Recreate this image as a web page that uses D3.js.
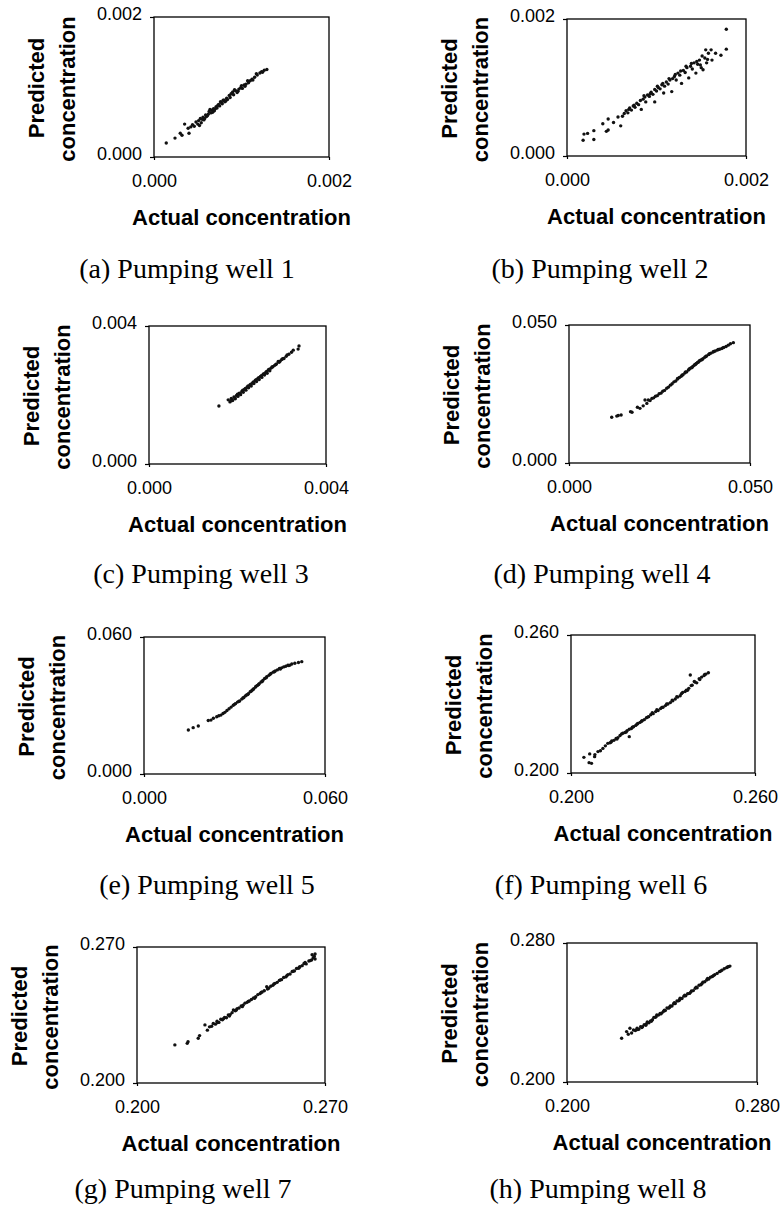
<!DOCTYPE html>
<html>
<head>
<meta charset="utf-8">
<script src="https://cdn.jsdelivr.net/npm/d3@7"></script>
<style>
body { margin: 0; background: #fff; }
.tick text { font-family: "Liberation Sans", Arial, sans-serif; font-size: 18px; fill: #000; }
.title { font-family: "Liberation Sans", Arial, sans-serif; font-size: 22px; font-weight: bold; fill: #000; }
.caption { font-family: "Liberation Serif", "Times New Roman", serif; font-size: 28px; fill: #000; }
</style>
</head>
<body>
<svg id="chart" width="781" height="1211"></svg>
<script>
// captions and axis ranges (min / max tick of each panel)
var captions = ["(a) Pumping well 1", "(b) Pumping well 2", "(c) Pumping well 3", "(d) Pumping well 4",
                "(e) Pumping well 5", "(f) Pumping well 6", "(g) Pumping well 7", "(h) Pumping well 8"];
var tickValues = [[0, 0.002], [0, 0.002], [0, 0.004], [0, 0.05],
                  [0, 0.06], [0.2, 0.26], [0.2, 0.27], [0.2, 0.28]];
var xTitle = "Actual concentration";
var yTitle = ["Predicted", "concentration"];

// points: actual (x) and predicted (y)
var well1Actual = [0.00014,0.00024,0.00030,0.00032,0.00035,0.00039,0.00040,0.00042,0.00044,0.00046,0.00048,0.00050,0.00051,0.00053,0.00054,0.00056,0.00057,0.00059,0.00060,0.00062,0.00063,0.00065,0.00066,0.00068,0.00069,0.00071,0.00072,0.00074,0.00075,0.00077,0.00078,0.00080,0.00081,0.00083,0.00084,0.00086,0.00087,0.00089,0.00090,0.00091,0.00093,0.00095,0.00097,0.00099,0.00101,0.00103,0.00105,0.00108,0.00110,0.00112,0.00115,0.00118,0.00121,0.00124,0.00126,0.00129,
    0.00052,0.00058,0.00064,0.00070,0.00076,0.00082,0.00088,0.00092,0.00096,0.00100,0.00104,0.00107,0.00113,0.00117,0.00123,0.00055,0.00061,0.00067,0.00073,0.00079];
var well1Predicted = [0.00020,0.00027,0.00034,0.00031,0.00047,0.00041,0.00034,0.00043,0.00046,0.00044,0.00050,0.00047,0.00052,0.00055,0.00049,0.00057,0.00053,0.00060,0.00058,0.00061,0.00065,0.00063,0.00067,0.00069,0.00066,0.00072,0.00070,0.00075,0.00073,0.00078,0.00076,0.00081,0.00079,0.00084,0.00082,0.00088,0.00085,0.00091,0.00093,0.00089,0.00095,0.00092,0.00097,0.00099,0.00098,0.00103,0.00104,0.00106,0.00109,0.00111,0.00114,0.00117,0.00120,0.00121,0.00124,0.00125,
    0.00045,0.00055,0.00068,0.00069,0.00079,0.00080,0.00090,0.00096,0.00094,0.00102,0.00101,0.00109,0.00110,0.00119,0.00122,0.00054,0.00059,0.00064,0.00074,0.00081];

var well2Actual = [0.00018,0.00019,0.00023,0.00030,0.00030,0.00040,0.00044,0.00046,0.00046,0.00052,0.00057,0.00060,0.00062,0.00064,0.00066,0.00068,0.00070,0.00072,0.00074,0.00076,0.00078,0.00080,0.00082,0.00083,0.00085,0.00087,0.00088,0.00090,0.00092,0.00094,0.00096,0.00098,0.00098,0.00100,0.00102,0.00104,0.00106,0.00108,0.00109,0.00111,0.00113,0.00115,0.00117,0.00118,0.00120,0.00122,0.00124,0.00126,0.00128,0.00130,0.00132,0.00134,0.00136,0.00138,0.00140,0.00142,0.00144,0.00146,0.00148,0.00150,0.00152,0.00154,0.00156,0.00158,0.00161,0.00162,0.00166,0.00172,0.00178,0.00178,
    0.00086,0.00093,0.00101,0.00107,0.00114,0.00121,0.00127,0.00133,0.00139,0.00145,0.00151,0.00157,0.00149,0.00155,0.00069,0.00075];
var well2Predicted = [0.00023,0.00032,0.00033,0.00024,0.00037,0.00047,0.00036,0.00038,0.00054,0.00049,0.00057,0.00044,0.00058,0.00062,0.00066,0.00063,0.00070,0.00067,0.00073,0.00071,0.00077,0.00075,0.00081,0.00068,0.00083,0.00086,0.00079,0.00089,0.00087,0.00093,0.00090,0.00079,0.00097,0.00095,0.00100,0.00098,0.00104,0.00092,0.00102,0.00108,0.00105,0.00111,0.00094,0.00113,0.00116,0.00111,0.00121,0.00118,0.00106,0.00125,0.00122,0.00129,0.00114,0.00131,0.00127,0.00136,0.00121,0.00134,0.00140,0.00129,0.00126,0.00143,0.00136,0.00150,0.00155,0.00140,0.00150,0.00147,0.00156,0.00185,
    0.00088,0.00091,0.00102,0.00106,0.00113,0.00119,0.00124,0.00131,0.00135,0.00138,0.00146,0.00141,0.00133,0.00155,0.00068,0.00074];

var well3Actual = [0.00158,0.00179,0.00183,0.00186,0.00189,0.00192,0.00195,0.00198,0.00201,0.00204,0.00207,0.00210,0.00213,0.00216,0.00219,0.00222,0.00225,0.00228,0.00231,0.00234,0.00237,0.00240,0.00243,0.00246,0.00249,0.00252,0.00255,0.00258,0.00261,0.00264,0.00267,0.00270,0.00273,0.00276,0.00280,0.00284,0.00288,0.00292,0.00296,0.00300,0.00305,0.00310,0.00316,0.00322,0.00326,0.00337,0.00339,
    0.00185,0.00194,0.00200,0.00206,0.00212,0.00218,0.00224,0.00230,0.00236,0.00242,0.00248,0.00254,0.00260,0.00266,0.00272,0.00278,0.00286,0.00294,0.00302,0.00312];
var well3Predicted = [0.00168,0.00186,0.00180,0.00190,0.00184,0.00194,0.00189,0.00199,0.00196,0.00205,0.00201,0.00211,0.00208,0.00217,0.00214,0.00223,0.00221,0.00229,0.00226,0.00235,0.00233,0.00242,0.00239,0.00248,0.00245,0.00254,0.00251,0.00260,0.00258,0.00266,0.00263,0.00273,0.00270,0.00278,0.00282,0.00286,0.00290,0.00297,0.00298,0.00303,0.00306,0.00312,0.00318,0.00324,0.00330,0.00333,0.00342,
    0.00183,0.00192,0.00202,0.00204,0.00214,0.00219,0.00226,0.00231,0.00238,0.00244,0.00250,0.00256,0.00262,0.00268,0.00275,0.00281,0.00288,0.00295,0.00305,0.00316];

var well4Actual = [0.0118,0.0132,0.0136,0.0144,0.0170,0.0174,0.0189,0.0196,0.0205,0.0210,0.0215,0.0219,0.0224,0.0229,0.0234,0.0239,0.0244,0.0249,0.0254,0.0259,0.0264,0.0270,0.0275,0.0280,0.0285,0.0290,0.0295,0.0300,0.0305,0.0310,0.0315,0.0320,0.0325,0.0330,0.0334,0.0338,0.0342,0.0346,0.0350,0.0355,0.0360,0.0365,0.0370,0.0375,0.0380,0.0386,0.0392,0.0398,0.0404,0.0410,0.0416,0.0422,0.0428,0.0434,0.0440,0.0446,0.0454,
    0.0300,0.0312,0.0322,0.0332,0.0340,0.0348,0.0352,0.0358,0.0362,0.0368,0.0378,0.0388,0.0400,0.0412,0.0426];
var well4Predicted = [0.0166,0.0170,0.0172,0.0174,0.0186,0.0184,0.0202,0.0198,0.0207,0.0228,0.0216,0.0228,0.0226,0.0234,0.0236,0.0242,0.0244,0.0251,0.0253,0.0260,0.0263,0.0271,0.0275,0.0282,0.0287,0.0294,0.0297,0.0304,0.0310,0.0314,0.0320,0.0326,0.0330,0.0337,0.0343,0.0345,0.0350,0.0354,0.0358,0.0364,0.0370,0.0373,0.0378,0.0383,0.0388,0.0393,0.0398,0.0402,0.0406,0.0409,0.0412,0.0415,0.0419,0.0422,0.0427,0.0432,0.0436,
    0.0306,0.0318,0.0330,0.0340,0.0346,0.0357,0.0361,0.0366,0.0372,0.0375,0.0386,0.0396,0.0404,0.0411,0.0418];

var well5Actual = [0.0147,0.0163,0.0180,0.0213,0.0222,0.0230,0.0241,0.0248,0.0255,0.0262,0.0268,0.0275,0.0282,0.0289,0.0296,0.0303,0.0310,0.0317,0.0324,0.0331,0.0340,0.0346,0.0352,0.0358,0.0364,0.0370,0.0376,0.0382,0.0388,0.0394,0.0400,0.0407,0.0414,0.0421,0.0428,0.0435,0.0442,0.0449,0.0456,0.0463,0.0470,0.0477,0.0484,0.0490,0.0500,0.0512,0.0523,
    0.0300,0.0314,0.0328,0.0336,0.0344,0.0355,0.0362,0.0372,0.0380,0.0392,0.0405,0.0418,0.0432,0.0452,0.0480];
var well5Predicted = [0.0193,0.0203,0.0210,0.0234,0.0236,0.0244,0.0251,0.0255,0.0258,0.0265,0.0270,0.0278,0.0286,0.0293,0.0301,0.0308,0.0315,0.0320,0.0328,0.0335,0.0346,0.0352,0.0360,0.0367,0.0374,0.0381,0.0388,0.0396,0.0403,0.0410,0.0418,0.0426,0.0432,0.0440,0.0446,0.0451,0.0456,0.0462,0.0465,0.0469,0.0472,0.0476,0.0477,0.0482,0.0485,0.0488,0.0492,
    0.0305,0.0318,0.0333,0.0342,0.0348,0.0362,0.0370,0.0385,0.0392,0.0405,0.0421,0.0437,0.0448,0.0460,0.0475];

var well6Actual = [0.2042,0.2059,0.2061,0.2067,0.2077,0.2078,0.2088,0.2096,0.2104,0.2112,0.2120,0.2127,0.2133,0.2140,0.2147,0.2153,0.2160,0.2169,0.2176,0.2183,0.2190,0.2190,0.2197,0.2204,0.2211,0.2218,0.2225,0.2232,0.2239,0.2246,0.2253,0.2260,0.2268,0.2276,0.2284,0.2292,0.2300,0.2308,0.2316,0.2324,0.2332,0.2340,0.2348,0.2356,0.2364,0.2372,0.2380,0.2384,0.2389,0.2395,0.2402,0.2410,0.2418,0.2426,0.2434,0.2440,0.2448,
    0.2130,0.2150,0.2165,0.2180,0.2200,0.2215,0.2230,0.2250,0.2265,0.2280,0.2296,0.2312,0.2330,0.2345,0.2360,0.2376,0.2392,0.2405,0.2420,0.2436];
var well6Predicted = [0.2068,0.2045,0.2083,0.2042,0.2071,0.2080,0.2093,0.2097,0.2107,0.2118,0.2129,0.2131,0.2139,0.2142,0.2150,0.2154,0.2163,0.2173,0.2176,0.2184,0.2158,0.2190,0.2193,0.2201,0.2207,0.2215,0.2220,0.2227,0.2232,0.2240,0.2245,0.2253,0.2258,0.2267,0.2272,0.2280,0.2286,0.2293,0.2300,0.2306,0.2314,0.2322,0.2330,0.2336,0.2350,0.2354,0.2360,0.2368,0.2426,0.2382,0.2398,0.2392,0.2410,0.2417,0.2424,0.2430,0.2436,
    0.2134,0.2148,0.2170,0.2178,0.2199,0.2212,0.2225,0.2243,0.2262,0.2275,0.2285,0.2300,0.2316,0.2332,0.2345,0.2360,0.2380,0.2395,0.2406,0.2428];

var well7Actual = [0.2141,0.2187,0.2190,0.2228,0.2233,0.2253,0.2262,0.2270,0.2278,0.2284,0.2292,0.2298,0.2305,0.2312,0.2318,0.2326,0.2333,0.2340,0.2347,0.2354,0.2359,0.2366,0.2373,0.2380,0.2388,0.2395,0.2402,0.2410,0.2418,0.2426,0.2434,0.2442,0.2450,0.2458,0.2466,0.2474,0.2483,0.2490,0.2498,0.2506,0.2514,0.2522,0.2530,0.2538,0.2546,0.2554,0.2562,0.2570,0.2578,0.2586,0.2594,0.2602,0.2607,0.2615,0.2622,0.2630,0.2640,0.2650,0.2656,0.2660,0.2663,0.2663,
    0.2300,0.2322,0.2344,0.2370,0.2392,0.2414,0.2438,0.2462,0.2486,0.2510,0.2534,0.2558,0.2582,0.2604,0.2626,0.2645,0.2652];
var well7Predicted = [0.2196,0.2204,0.2212,0.2230,0.2244,0.2299,0.2272,0.2289,0.2292,0.2306,0.2303,0.2318,0.2312,0.2328,0.2325,0.2337,0.2336,0.2350,0.2352,0.2362,0.2376,0.2372,0.2383,0.2386,0.2396,0.2400,0.2411,0.2415,0.2422,0.2430,0.2438,0.2444,0.2455,0.2460,0.2468,0.2475,0.2496,0.2488,0.2498,0.2503,0.2513,0.2518,0.2528,0.2532,0.2543,0.2546,0.2558,0.2561,0.2574,0.2577,0.2589,0.2590,0.2599,0.2604,0.2615,0.2613,0.2628,0.2633,0.2644,0.2652,0.2638,0.2664,
    0.2311,0.2331,0.2345,0.2376,0.2393,0.2420,0.2436,0.2466,0.2484,0.2510,0.2531,0.2552,0.2575,0.2596,0.2620,0.2630,0.2660];

var well8Actual = [0.2230,0.2251,0.2258,0.2265,0.2272,0.2280,0.2288,0.2295,0.2302,0.2310,0.2318,0.2325,0.2332,0.2338,0.2345,0.2352,0.2360,0.2366,0.2372,0.2378,0.2385,0.2392,0.2400,0.2407,0.2414,0.2421,0.2428,0.2435,0.2442,0.2449,0.2456,0.2463,0.2470,0.2476,0.2484,0.2492,0.2500,0.2508,0.2516,0.2524,0.2532,0.2540,0.2548,0.2556,0.2564,0.2572,0.2580,0.2588,0.2596,0.2604,0.2612,0.2622,0.2632,0.2642,0.2652,0.2662,0.2672,0.2680,0.2686,
    0.2298,0.2315,0.2335,0.2355,0.2375,0.2395,0.2410,0.2432,0.2452,0.2474,0.2496,0.2520,0.2544,0.2568,0.2592,0.2616,0.2646,0.2676];
var well8Predicted = [0.2252,0.2290,0.2275,0.2309,0.2282,0.2299,0.2296,0.2310,0.2304,0.2318,0.2318,0.2330,0.2327,0.2345,0.2341,0.2352,0.2358,0.2372,0.2372,0.2386,0.2385,0.2394,0.2398,0.2407,0.2411,0.2426,0.2425,0.2438,0.2437,0.2450,0.2452,0.2466,0.2467,0.2482,0.2481,0.2494,0.2496,0.2508,0.2510,0.2524,0.2526,0.2540,0.2542,0.2557,0.2560,0.2574,0.2577,0.2587,0.2592,0.2603,0.2607,0.2617,0.2625,0.2635,0.2643,0.2652,0.2658,0.2664,0.2667,
    0.2302,0.2313,0.2336,0.2350,0.2376,0.2392,0.2413,0.2430,0.2456,0.2472,0.2500,0.2516,0.2546,0.2566,0.2596,0.2612,0.2638,0.2662];

var actuals = [well1Actual, well2Actual, well3Actual, well4Actual, well5Actual, well6Actual, well7Actual, well8Actual];
var predicteds = [well1Predicted, well2Predicted, well3Predicted, well4Predicted, well5Predicted, well6Predicted, well7Predicted, well8Predicted];

// where each plot box sits on the page: left, top, right, bottom, caption centre x, caption baseline
var frames = [
    [154, 17, 329, 157, 187, 278],
    [567, 19, 746, 156, 600, 278],
    [149, 326, 326, 464, 201, 583],
    [569, 325, 750, 463, 602, 583],
    [144, 637, 325, 774, 207, 894],
    [571, 635, 755, 773, 601, 894],
    [137, 947, 325, 1083, 183, 1198],
    [567, 943, 757, 1082, 598, 1198]
];

var svg = d3.select("#chart");
var fmt = d3.format(".3f");

for (var k = 0; k < 8; k++) {
    var f = frames[k];
    var w = f[2] - f[0];
    var h = f[3] - f[1];
    var g = svg.append("g").attr("transform", "translate(" + f[0] + "," + f[1] + ")");

    var xScale = d3.scaleLinear().domain(tickValues[k]).range([0, w]);
    var yScale = d3.scaleLinear().domain(tickValues[k]).range([h, 0]);

    // y axis labels
    var yAxis = d3.axisLeft(yScale).tickValues(tickValues[k]).tickFormat(fmt)
        .tickSize(4).tickPadding(8);
    var ya = g.append("g").call(yAxis);
    ya.select(".domain").remove();
    ya.selectAll(".tick line").attr("stroke", "#000").attr("stroke-width", 1.2);
    ya.selectAll(".tick text").attr("dy", "0.12em");

    // x axis labels
    var xAxis = d3.axisBottom(xScale).tickValues(tickValues[k]).tickFormat(fmt)
        .tickSize(3).tickPadding(14);
    var xa = g.append("g").attr("transform", "translate(0," + h + ")").call(xAxis);
    xa.select(".domain").remove();
    xa.selectAll(".tick line").attr("stroke", "#000").attr("stroke-width", 1.2);

    // plot box
    g.append("rect")
        .attr("x", 0).attr("y", 0)
        .attr("width", w).attr("height", h)
        .attr("fill", "none")
        .attr("stroke", "#000")
        .attr("stroke-width", 1.3);

    // points
    var pts = d3.zip(actuals[k], predicteds[k]);
    g.selectAll("circle")
        .data(pts)
        .enter()
        .append("circle")
        .attr("cx", function(d) { return xScale(d[0]); })
        .attr("cy", function(d) { return yScale(d[1]); })
        .attr("r", 1.7)
        .attr("fill", "#111");

    // axis titles
    g.append("text")
        .attr("class", "title")
        .attr("x", w / 2)
        .attr("y", h + 68)
        .attr("text-anchor", "middle")
        .text(xTitle);

    g.append("text")
        .attr("class", "title")
        .attr("transform", "translate(-110," + (h / 2 + 1) + ") rotate(-90)")
        .attr("text-anchor", "middle")
        .text(yTitle[0]);
    g.append("text")
        .attr("class", "title")
        .attr("transform", "translate(-79," + (h / 2 + 2) + ") rotate(-90)")
        .attr("text-anchor", "middle")
        .text(yTitle[1]);

    // caption under the panel
    svg.append("text")
        .attr("class", "caption")
        .attr("x", f[4])
        .attr("y", f[5])
        .attr("text-anchor", "middle")
        .text(captions[k]);
}
</script>
</body>
</html>
